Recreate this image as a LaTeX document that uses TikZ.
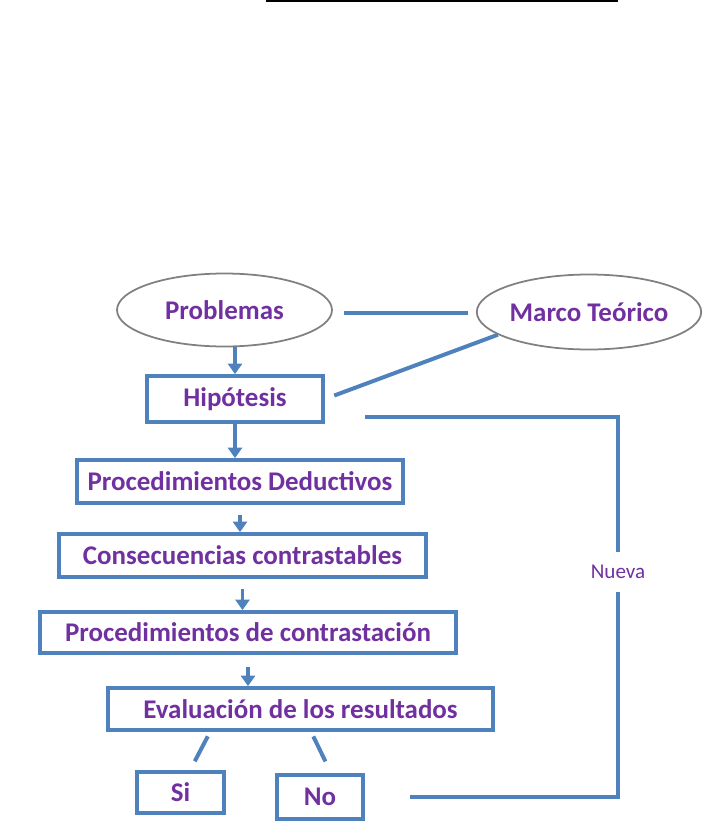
\documentclass[tikz,border=0pt]{standalone}
\usepackage{fontspec}
\setmainfont{Carlito}
\usetikzlibrary{arrows.meta,shapes.geometric}
\definecolor{azul}{RGB}{79,129,189}
\definecolor{morado}{RGB}{112,48,160}
\tikzset{
  caja/.style={draw=azul, line width=3.2pt, rectangle, inner sep=0pt, text=morado, font=\fontsize{23}{27}\selectfont\bfseries},
  elipse/.style={draw=gray, line width=1.5pt, ellipse, inner sep=0pt, text=morado, font=\fontsize{23}{27}\selectfont\bfseries},
  linea/.style={draw=azul, line width=3.4pt},
  flecha/.style={linea, -{Triangle[length=9pt, width=12pt]}}
}
\begin{document}
\begin{tikzpicture}[x=0.03cm, y=-0.03cm]
\useasboundingbox (0,0) rectangle (708,835);
\draw[line width=2pt] (266,1) -- (618,1);
% nodos
\node[elipse, minimum width=6.45cm, minimum height=2.19cm] (prob) at (224.5,310) {Problemas};
\node[elipse, minimum width=6.54cm, minimum height=2.25cm] (marco) at (589,312) {Marco Teórico};
\node[caja, minimum width=5.28cm, minimum height=1.38cm] (hip) at (235,399) {Hipótesis};
\node[caja, minimum width=9.78cm, minimum height=1.29cm] (ded) at (240,481.5) {Procedimientos Deductivos};
\node[caja, minimum width=11.01cm, minimum height=1.29cm] (cons) at (242.5,555.5) {Consecuencias contrastables};
\node[caja, minimum width=12.48cm, minimum height=1.23cm] (contr) at (248,632.5) {Procedimientos de contrastación};
\node[caja, minimum width=11.55cm, minimum height=1.26cm] (eval) at (300.5,709) {Evaluación de los resultados};
\node[caja, minimum width=2.61cm, minimum height=1.23cm] (si) at (180.5,792.5) {Si};
\node[caja, minimum width=2.58cm, minimum height=1.32cm] (no) at (320,797) {No};
\node[inner sep=0pt, minimum height=1.2cm, text=morado, font=\fontsize{18}{22}\selectfont] (nueva) at (618,572) {Nueva};
\coordinate (retA) at (365,417);
\coordinate (retB) at (410,797);
% conectores
\draw[flecha] (prob.south -| hip.north) -- (hip.north);
\draw[flecha] (hip.south) -- (hip.south |- ded.north);
\draw[flecha, shorten <=0.3cm] (ded.south) -- (ded.south |- cons.north);
\draw[flecha, shorten <=0.3cm] (cons.south) -- (cons.south |- contr.north);
\draw[flecha, shorten <=0.36cm] (contr.south) -- (contr.south |- eval.north);
\draw[linea, shorten <=0.33cm, shorten >=0.24cm] ([yshift=-0.09cm]prob.east) -- ([yshift=-0.09cm]prob.east -| marco.west);
\draw[linea, shorten <=0.3cm] (hip.east) -- (marco.194);
\draw[linea] (retA) -- (retA -| nueva) -- (nueva.north);
\draw[linea] (nueva.south) -- (nueva |- retB) -- (retB);
\draw[linea, shorten <=0.15cm, shorten >=0.3cm] ([xshift=3.12cm]eval.south west) -- ([xshift=1.65cm]si.north west);
\draw[linea, shorten <=0.15cm, shorten >=0.39cm] ([xshift=6.15cm]eval.south west) -- ([xshift=1.68cm]no.north west);
\end{tikzpicture}
\end{document}
